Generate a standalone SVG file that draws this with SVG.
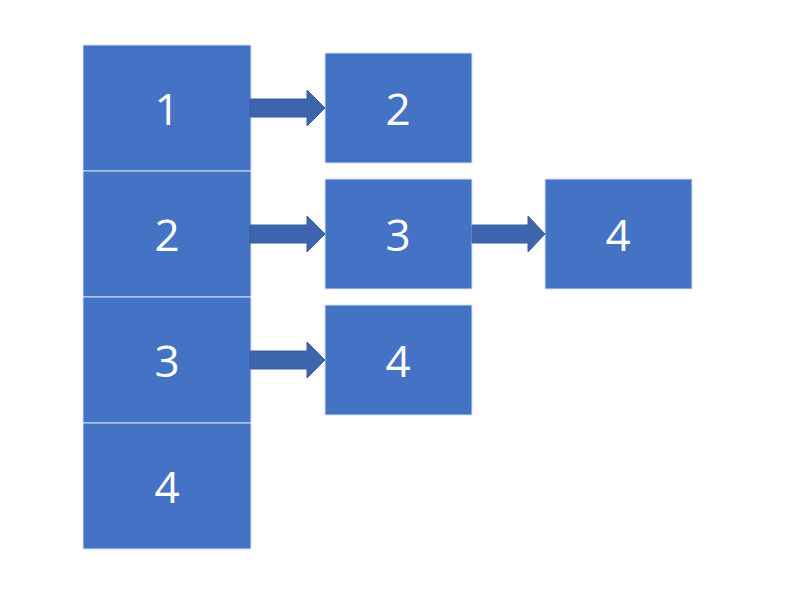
<svg xmlns="http://www.w3.org/2000/svg" width="788" height="605" viewBox="0 0 788 605">
<style>
.box{fill:#4472C4;stroke:#D6E0F2;stroke-width:1}
.lbl{fill:#FFFFFF;font-family:"Open Sans","Liberation Sans",sans-serif;font-size:44px;text-anchor:middle;dominant-baseline:central}
.arr{fill:#3D65AD;stroke:#3A5E9F;stroke-width:1}
</style>
<rect width="788" height="605" fill="#FFFFFF"/>
<g id="a1"><rect class="box" x="83" y="45" width="168" height="126"/><text class="lbl" x="167" y="108">1</text></g>
<g id="a2"><rect class="box" x="83" y="171" width="168" height="126"/><text class="lbl" x="167" y="234">2</text></g>
<g id="a3"><rect class="box" x="83" y="297" width="168" height="126"/><text class="lbl" x="167" y="360">3</text></g>
<g id="a4"><rect class="box" x="83" y="423" width="168" height="126"/><text class="lbl" x="167" y="486">4</text></g>
<g id="b1"><rect class="box" x="325" y="53" width="147" height="110"/><text class="lbl" x="398" y="108">2</text></g>
<g id="b2"><rect class="box" x="325" y="179" width="147" height="110"/><text class="lbl" x="398" y="234">3</text></g>
<g id="b3"><rect class="box" x="325" y="305" width="147" height="110"/><text class="lbl" x="398" y="360">4</text></g>
<g id="c2"><rect class="box" x="545" y="179" width="147" height="110"/><text class="lbl" x="618" y="234">4</text></g>
<g id="connectors">
<polygon class="arr" points="250,99 307,99 307,90 325,108 307,126 307,117 250,117"/>
<polygon class="arr" points="250,225 307,225 307,216 325,234 307,252 307,243 250,243"/>
<polygon class="arr" points="250,351 307,351 307,342 325,360 307,378 307,369 250,369"/>
<polygon class="arr" points="472,225 528,225 528,216 545,234 528,252 528,243 472,243"/>
</g>
</svg>
